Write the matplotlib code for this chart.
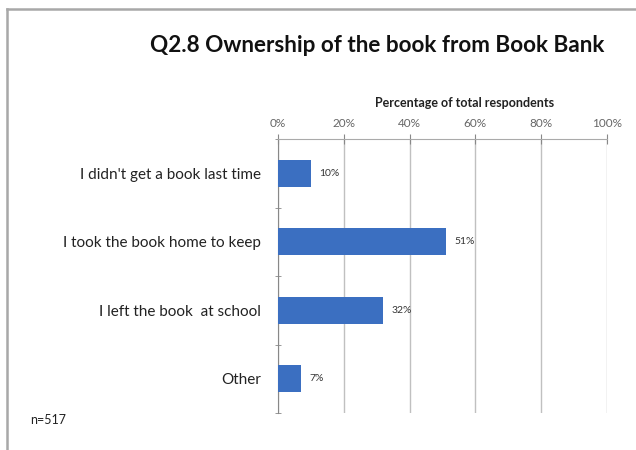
import numpy as np
import matplotlib.pyplot as plt
from matplotlib.lines import Line2D

categories = ["I didn't get a book last time",
              "I took the book home to keep",
              "I left the book  at school",
              "Other"]
percent = [10, 51, 32, 7]
xticks = [0, 20, 40, 60, 80, 100]
xticklabels = ["0%", "20%", "40%", "60%", "80%", "100%"]

plt.rcParams['font.family'] = ['Lato', 'DejaVu Sans']

fig = plt.figure(figsize=(6.36, 4.5), dpi=100)
ax = fig.add_axes([0.4371, 0.0822, 0.5173, 0.6089])

y = np.arange(len(categories))
ax.barh(y, percent, height=0.4, color='#3b6fc1', zorder=3)
for yi, v in zip(y, percent):
    ax.text(v + 2.6, yi, f"{v}%", va='center', ha='left', fontsize=7.5, color='#333333')

ax.set_xlim(0, 100)
ax.set_ylim(len(categories) - 0.5, -0.5)
ax.set_yticks(y)
ax.set_yticklabels(categories, fontsize=11, color='#222222')
ax.set_yticks(np.arange(len(categories) + 1) - 0.5, minor=True)
ax.tick_params(axis='y', which='major', length=0, pad=12)
ax.tick_params(axis='y', which='minor', length=5, direction='inout', color='#888888')

ax.xaxis.tick_top()
ax.xaxis.set_label_position('top')
ax.set_xticks(xticks)
ax.set_xticklabels(xticklabels, fontsize=8.5, color='#666666')
ax.tick_params(axis='x', length=7, direction='inout', color='#888888', pad=4)
ax.set_xlabel("Percentage of total respondents", fontsize=9, fontweight='bold',
              color='#222222')
ax.xaxis.set_label_coords(0.568, 1.115)

ax.grid(axis='x', color='#c0c0c0', linewidth=1.0, zorder=0)
for side in ['right', 'bottom']:
    ax.spines[side].set_visible(False)
ax.spines['left'].set_color('#888888')
ax.spines['top'].set_color('#aaaaaa')

fig.text(0.236, 0.9, "Q2.8 Ownership of the book from Book Bank", fontsize=16.2,
         fontweight='bold', color='#111111', va='center', ha='left')
fig.text(0.047, 0.067, "n=517", fontsize=9, color='#222222', va='center')

# outer frame lines
fig.add_artist(Line2D([7 / 636, 1], [1 - 9 / 450, 1 - 9 / 450], color='#a8a8a8', linewidth=1.8))
fig.add_artist(Line2D([7 / 636, 7 / 636], [0, 1 - 9 / 450], color='#a8a8a8', linewidth=1.8))

fig.savefig("out.png", dpi=100)
